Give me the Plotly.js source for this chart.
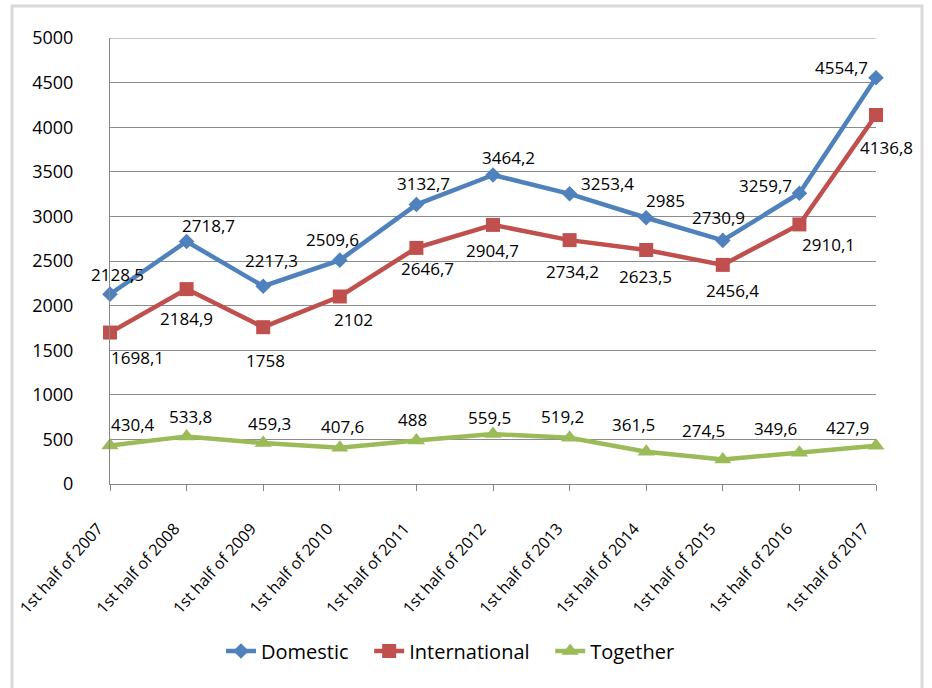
<!DOCTYPE html>
<html>
<head>
<meta charset="utf-8">
<script src="https://cdn.plot.ly/plotly-3.0.1.min.js"></script>
<style>
  html, body { margin: 0; padding: 0; background: #ffffff; }
  #chart { width: 932px; height: 688px; }
</style>
</head>
<body>
<div id="chart"></div>
<script>
// ---- data ----
const categories = [
  "1st half of 2007", "1st half of 2008", "1st half of 2009", "1st half of 2010",
  "1st half of 2011", "1st half of 2012", "1st half of 2013", "1st half of 2014",
  "1st half of 2015", "1st half of 2016", "1st half of 2017"
];
const domestic      = [2128.5, 2718.7, 2217.3, 2509.6, 3132.7, 3464.2, 3253.4, 2985, 2730.9, 3259.7, 4554.7];
const international = [1698.1, 2184.9, 1758, 2102, 2646.7, 2904.7, 2734.2, 2623.5, 2456.4, 2910.1, 4136.8];
const together      = [430.4, 533.8, 459.3, 407.6, 488, 559.5, 519.2, 361.5, 274.5, 349.6, 427.9];
const seriesNames   = ["Domestic", "International", "Together"];
const yTicks        = [0, 500, 1000, 1500, 2000, 2500, 3000, 3500, 4000, 4500, 5000];

// label offsets from their point, in px (style only): [dx, dy] with dy positive = down
const domOff = [[7,-20],[22,-16],[8,-26],[-7,-21],[7,-21],[15,-17],[38,-10],[19,-17],[-4,-23],[-34,-8],[-35,-10]];
const intOff = [[27,25],[0,29],[2,33],[14,23],[11,21],[-1,26],[3,31],[-1,27],[10,26],[29,20],[10,32]];
const togOff = [[23,-21],[4,-20],[6,-20],[3,-21],[-4,-21],[-4,-17],[-7,-21],[-13,-27],[-19,-29],[-24,-24],[-29,-18]];

// Excel-style decimal comma labels
const fmt = v => String(v).replace(".", ",");
const FONT = "Open Sans, sans-serif";

function series(name, y, color, symbol, size) {
  return {
    type: "scatter",
    mode: "lines+markers",
    name: name + "\u00a0\u00a0\u00a0",
    x: categories,
    y: y,
    cliponaxis: false,
    line: { color: color, width: 4.5 },
    marker: { color: color, symbol: symbol, size: size },
    hoverinfo: "x+y"
  };
}

const traces = [
  series(seriesNames[0], domestic, "#4F81BD", "diamond", 12),
  series(seriesNames[1], international, "#C0504D", "square", 14),
  series(seriesNames[2], together, "#9BBB59", "triangle-up", 15)
];

function labels(values, offsets) {
  return values.map((v, i) => ({
    x: categories[i], y: v, xref: "x", yref: "y",
    text: fmt(v), showarrow: false,
    xanchor: "center", yanchor: "middle",
    xshift: offsets[i][0], yshift: -offsets[i][1],
    font: { family: FONT, size: 17, color: "#000000" }
  }));
}

const annotations = [].concat(
  labels(domestic, domOff),
  labels(international, intOff),
  labels(together, togOff)
);

// plot area: x 110..876, y 38..484
const L = 110, R = 932 - 876, T = 38, B = 688 - 484;
const pw = 932 - L - R, ph = 688 - T - B;
const px = x => (x - L) / pw;
const py = y => (688 - B - y) / ph;

const layout = {
  width: 932,
  height: 688,
  margin: { l: L, r: R, t: T, b: B, pad: 0 },
  paper_bgcolor: "#ffffff",
  plot_bgcolor: "#ffffff",
  font: { family: FONT, color: "#000000" },
  showlegend: true,
  legend: {
    orientation: "h",
    x: px(458), xanchor: "center",
    y: py(651), yanchor: "middle",
    font: { family: FONT, size: 20, color: "#000000" },
    itemwidth: 30,
    tracegroupgap: 0
  },
  xaxis: {
    type: "category",
    range: [0, categories.length - 1],
    showgrid: false,
    showline: true,
    linecolor: "#868686",
    linewidth: 1,
    ticks: "outside",
    ticklen: 6,
    tickcolor: "#868686",
    tickangle: -48,
    ticklabelstandoff: 22,
    ticklabelshift: -12,
    tickfont: { family: FONT, size: 16, color: "#000000" },
    fixedrange: true,
    zeroline: false
  },
  yaxis: {
    range: [0, 5000],
    tickvals: yTicks,
    ticktext: yTicks.map(String),
    showgrid: true,
    gridcolor: "#8c8c8c",
    gridwidth: 1,
    showline: true,
    linecolor: "#868686",
    linewidth: 1,
    ticks: "",
    ticklabelstandoff: 32,
    tickfont: { family: FONT, size: 18, color: "#000000" },
    zeroline: false,
    fixedrange: true
  },
  annotations: annotations,
  shapes: [
    {
      type: "line", xref: "paper", yref: "y",
      x0: 0, x1: 1, y0: 5000, y1: 5000,
      line: { color: "#8c8c8c", width: 1 }, layer: "below"
    },
    {
      type: "rect", xref: "paper", yref: "paper",
      x0: px(12), x1: px(922), y0: py(6), y1: py(700),
      line: { color: "#d9d9d9", width: 3 }, fillcolor: "rgba(0,0,0,0)", layer: "below"
    }
  ]
};

Plotly.newPlot("chart", traces, layout, { staticPlot: true, displayModeBar: false });
</script>
</body>
</html>
